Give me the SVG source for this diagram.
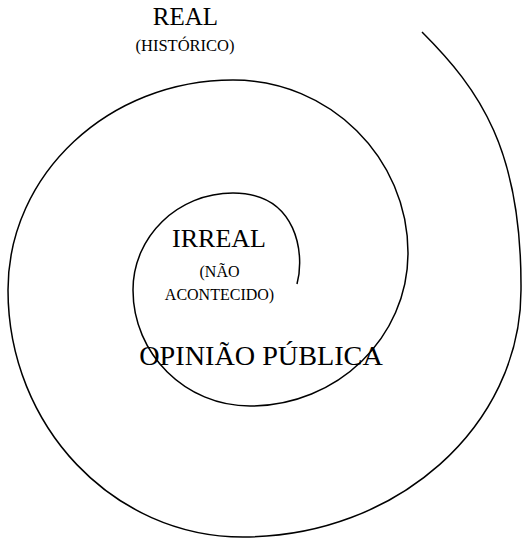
<svg xmlns="http://www.w3.org/2000/svg" width="522" height="547" viewBox="0 0 522 547">
<style>
.t{font-family:"Liberation Serif","Times New Roman",serif;fill:#000;text-anchor:middle}
.s{fill:none;stroke:#000;stroke-width:1.5}
</style>
<rect width="522" height="547" fill="#fff"/>
<g id="connectors">
<path class="s" d="M 297,284 C 305,255 298,193 233,193 C 177.8,193 133,236.5 133,290 C 133,354 185.4,406 250,406 C 337.2,406 408,337.5 408,253 C 408,157.5 329.6,80 233,80 C 108.8,80 8,174.1 8,290 C 8,426.3 113.3,537 243,537 C 396.5,537 521,426.3 521,290 C 522,150 480,90 422,32"/>
</g>
<g id="real">
<text class="t" x="185.5" y="25" font-size="25">REAL</text>
<text class="t" x="185" y="51" font-size="16.5">(HISTÓRICO)</text>
</g>
<g id="irreal">
<text class="t" x="219" y="247" font-size="26">IRREAL</text>
<text class="t" x="219.5" y="277" font-size="16">(NÃO</text>
<text class="t" x="219.5" y="300" font-size="16">ACONTECIDO)</text>
</g>
<g id="opiniao">
<text class="t" x="261" y="365" font-size="28.2">OPINIÃO PÚBLICA</text>
</g>
</svg>
